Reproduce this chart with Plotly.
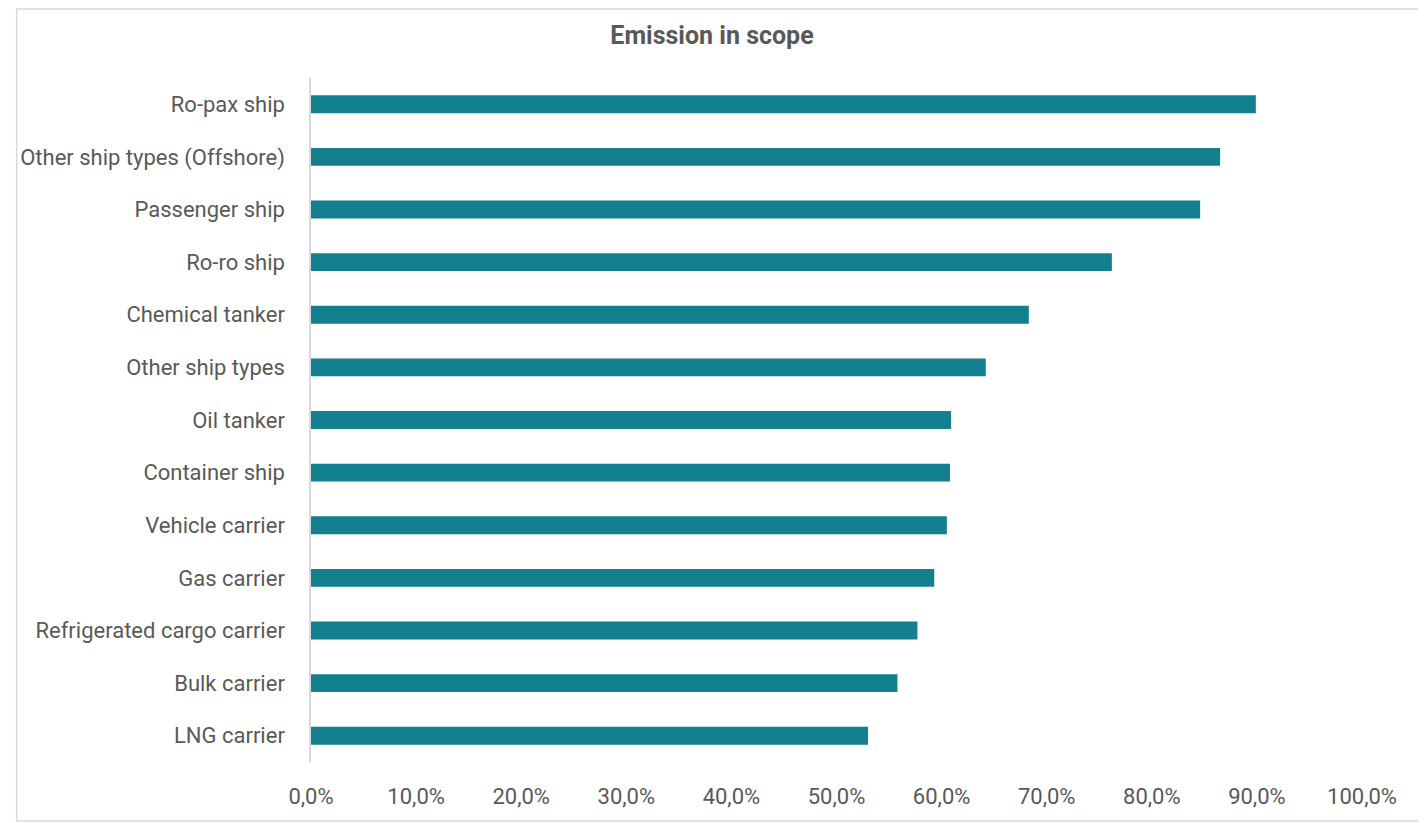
import plotly.graph_objects as go

# ---- data ----
ship_types = [
    "Ro-pax ship",
    "Other ship types (Offshore)",
    "Passenger ship",
    "Ro-ro ship",
    "Chemical tanker",
    "Other ship types",
    "Oil tanker",
    "Container ship",
    "Vehicle carrier",
    "Gas carrier",
    "Refrigerated cargo carrier",
    "Bulk carrier",
    "LNG carrier",
]
share_in_scope = [
    0.899, 0.865, 0.846, 0.762, 0.683, 0.642, 0.609,
    0.608, 0.605, 0.593, 0.577, 0.558, 0.530,
]
x_ticks = [0.0, 0.1, 0.2, 0.3, 0.4, 0.5, 0.6, 0.7, 0.8, 0.9, 1.0]

BAR_COLOR = "#12808F"
TEXT_COLOR = "#595959"
FONT = "Roboto"

# page body keeps an 8px margin, so the figure is a bit smaller and shifted
W, H = 1418, 815
M_L, M_R, M_T, M_B = 297, 64, 70, 61
PW, PH = W - M_L - M_R, H - M_T - M_B

fig = go.Figure()
fig.add_trace(go.Bar(
    x=share_in_scope,
    y=ship_types,
    orientation="h",
    marker=dict(color=BAR_COLOR, line=dict(width=0)),
    width=0.34,
    showlegend=False,
    hovertemplate="%{y}: %{x:.1%}<extra></extra>",
))

# light grey frame round the whole chart
fig.add_shape(
    type="rect", xref="paper", yref="paper",
    x0=-(M_L - 1) / PW, x1=1 + (M_R - 3) / PW,
    y0=-(M_B - 2) / PH, y1=1 + (M_T - 1) / PH,
    line=dict(color="#D9D9D9", width=1.5),
    fillcolor="rgba(0,0,0,0)",
    layer="below",
)

fig.update_layout(
    width=W, height=H,
    margin=dict(l=M_L, r=M_R, t=M_T, b=M_B),
    paper_bgcolor="white",
    plot_bgcolor="white",
    separators=", ",
    font=dict(family=FONT, size=22, color=TEXT_COLOR),
    title=dict(
        text="<b>Emission in scope</b>",
        x=704 / W, xref="container", xanchor="center",
        y=1 - 27 / H, yref="container", yanchor="middle",
        font=dict(family=FONT, size=25, color=TEXT_COLOR),
    ),
    bargap=0.66,
)

fig.update_xaxes(
    range=[0, 1.0],
    tickmode="array",
    tickvals=x_ticks,
    tickformat=".1%",
    showgrid=False,
    zeroline=False,
    showline=False,
    ticks="",
    ticklabelstandoff=19,
    tickfont=dict(family=FONT, size=22, color=TEXT_COLOR),
    fixedrange=True,
)
fig.update_yaxes(
    type="category",
    categoryorder="array",
    categoryarray=ship_types[::-1],
    showgrid=False,
    zeroline=False,
    showline=True,
    linecolor="#D9D9D9",
    linewidth=1.5,
    ticks="",
    ticklabelstandoff=20,
    tickfont=dict(family=FONT, size=22, color=TEXT_COLOR),
    fixedrange=True,
)

fig.write_html("out.html")
